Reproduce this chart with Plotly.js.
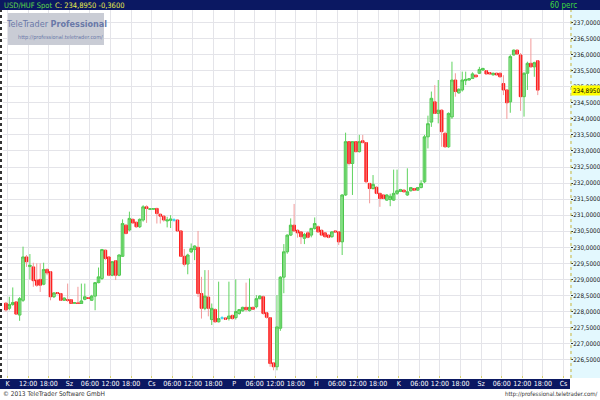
<!DOCTYPE html>
<html><head><meta charset="utf-8">
<script src="https://cdn.plot.ly/plotly-3.0.1.min.js"></script>
<style>html,body{margin:0;padding:0;background:#fff}#chart{width:600px;height:400px}</style>
</head><body><div id="chart"></div>
<script>
// hourly candles (start hour counted from Tuesday 00:00 of the first shown day)
const hour = [5,6,7,8,9,10,11,12,13,14,15,16,17,18,19,20,21,22,23,24,25,26,27,28,29,30,31,32,33,34,35,36,37,38,39,40,
41,42,43,44,45,46,47,48,49,50,51,52,53,54,55,56,57,58,59,60,61,62,63,64,65,66,67,68,69,70,71,72,73,74,75,76,77,78,79,80,
81,82,83,84,85,86,87,88,89,90,91,92,93,94,95,96,97,98,99,100,101,102,103,104,105,106,107,108,109,110,111,112,113,114,115,116,117,118,119,120,
121,122,123,124,125,126,127,128,129,130,131,132,133,134,135,136,137,138,139,140,141,142,143,144,145,146,147,148,149,150,151,152,153,154,155,156,157,158,159,160];
const open = [228.26,228.10,228.22,228.30,227.89,228.35,229.70,229.40,229.39,228.98,229.00,228.85,229.31,229.24,228.46,228.59,228.56,228.35,228.37,228.37,228.26,228.27,228.25,228.38,228.43,228.35,228.48,228.90,229.03,229.91,229.70,229.13,229.58,229.13,229.72,230.69,
230.54,230.87,230.78,230.64,230.85,231.26,231.18,231.19,231.21,231.03,230.97,230.82,230.84,230.85,230.85,230.51,229.72,229.48,229.86,229.93,230.00,228.56,228.10,228.45,227.75,228.06,227.68,227.80,227.80,227.78,227.88,227.81,227.94,228.02,228.13,228.03,228.13,228.15,228.40,228.46,
227.96,227.81,226.40,226.28,227.48,229.07,229.86,230.38,230.69,230.53,230.48,230.28,230.45,230.38,230.59,230.64,230.53,230.45,230.38,230.33,230.51,230.48,230.17,231.63,233.29,232.61,233.29,232.98,233.32,233.26,231.99,231.83,231.87,231.68,231.63,231.47,231.49,231.47,231.68,231.74,
231.78,231.63,231.76,231.83,231.78,231.86,232.04,233.44,233.90,234.53,234.17,234.27,233.55,233.13,234.06,235.21,234.81,234.90,235.19,235.21,235.26,235.36,235.42,235.52,235.50,235.44,235.37,235.42,235.42,235.10,234.90,234.53,235.99,236.14,235.99,234.69,235.42,235.73,235.62,235.81];
const high = [228.30,228.46,228.75,228.32,228.45,230.02,229.76,229.79,229.52,229.50,229.50,229.52,229.35,229.26,228.60,228.60,228.58,228.44,228.87,228.39,228.28,228.77,228.87,228.87,228.45,228.52,228.92,229.37,229.95,229.93,229.72,229.57,229.60,229.78,230.87,230.72,
231.11,230.90,230.80,230.90,231.31,231.31,231.22,231.22,231.23,231.05,231.00,230.95,231.00,230.90,230.87,230.52,229.95,229.80,230.12,230.06,230.51,229.08,229.29,229.29,228.25,228.10,228.93,227.85,227.82,228.93,227.90,229.00,228.08,228.15,228.90,229.03,228.15,228.51,228.51,228.50,
227.98,227.83,226.42,228.51,229.10,230.10,230.40,230.90,231.35,230.56,230.50,230.45,230.50,230.60,230.93,230.68,230.55,230.47,230.40,230.50,230.53,230.50,231.65,233.57,233.30,233.30,233.30,233.50,233.50,233.28,232.00,232.25,231.90,231.70,231.65,231.65,231.67,232.42,232.42,231.82,
231.80,232.46,231.88,231.85,231.88,232.09,233.50,234.10,234.85,235.05,235.21,234.30,233.60,234.20,235.78,235.42,234.95,235.47,235.47,235.27,235.45,235.38,235.62,235.59,235.52,235.46,235.44,235.44,235.44,235.36,234.92,236.00,236.16,236.16,236.05,235.45,235.78,236.50,235.78,235.83];
const low = [228.00,228.04,228.18,227.90,227.71,228.30,229.39,229.00,228.77,228.77,228.61,228.82,229.13,228.35,228.42,228.54,228.33,228.33,228.30,228.24,228.24,228.24,228.24,228.35,228.40,228.34,228.04,228.88,228.98,229.60,229.10,229.10,228.98,229.10,229.70,230.40,
230.50,230.74,230.60,230.60,230.80,230.76,231.16,231.17,230.74,230.74,230.80,230.62,230.60,230.80,230.50,229.70,229.40,229.16,229.82,229.60,228.45,227.78,228.04,227.85,227.58,227.65,227.66,227.75,227.74,227.72,227.75,227.75,227.90,228.00,228.00,228.00,228.05,228.10,228.38,227.90,
227.78,226.28,226.17,226.17,227.40,228.57,229.80,230.35,230.48,230.30,230.10,230.10,230.28,230.31,230.55,230.45,230.35,230.30,230.28,230.30,230.46,230.07,229.76,231.60,232.55,231.63,232.95,232.95,233.24,232.00,231.37,231.80,231.65,231.26,231.50,231.45,231.28,231.45,231.63,231.72,
231.70,231.60,231.74,231.76,231.76,231.84,232.00,233.08,233.75,234.15,233.86,233.13,233.10,233.10,234.00,234.69,234.78,234.85,235.05,235.19,235.24,235.29,235.40,235.50,235.38,235.38,235.35,235.35,235.29,234.74,234.00,234.19,235.97,236.00,234.25,234.07,234.90,235.60,235.31,234.74];
const close = [228.05,228.22,228.28,227.92,228.40,229.70,229.55,229.44,228.96,228.82,228.82,229.31,229.20,228.46,228.58,228.56,228.35,228.42,228.35,228.25,228.27,228.25,228.33,228.46,228.41,228.48,228.90,229.08,229.93,229.65,229.13,229.55,229.13,229.76,230.74,230.43,
230.90,230.76,230.64,230.87,231.26,231.21,231.20,231.20,231.05,230.97,230.85,230.85,230.88,230.85,230.51,229.72,229.47,229.76,229.96,230.04,228.56,228.10,228.48,228.10,228.10,227.68,227.78,227.80,227.76,227.86,227.78,228.00,228.06,228.13,228.06,228.13,228.07,228.40,228.48,227.94,
227.82,226.38,226.28,227.52,229.07,229.86,230.38,230.69,230.51,230.45,230.33,230.40,230.31,230.59,230.74,230.48,230.38,230.33,230.31,230.48,230.48,230.17,231.63,233.29,232.61,233.29,232.98,233.29,233.26,232.04,231.83,231.96,231.68,231.52,231.52,231.63,231.59,231.68,231.76,231.80,
231.73,231.73,231.86,231.78,231.86,231.99,233.44,233.85,234.64,234.17,234.27,233.60,233.13,234.17,235.21,234.85,234.92,235.21,235.23,235.25,235.40,235.31,235.54,235.57,235.40,235.40,235.42,235.37,235.31,234.90,234.50,235.94,236.14,236.02,234.69,235.42,235.73,235.62,235.75,234.895];

const timeTicks = [6,12,18,24,30,36,42,48,54,60,66,72,78,84,90,96,102,108,114,120,126,132,138,144,150,156,162,168];
const timeLabels = ['K','12:00','18:00','Sz','06:00','12:00','18:00','Cs','06:00','12:00','18:00','P','06:00','12:00','18:00','H','06:00','12:00','18:00','K','06:00','12:00','18:00','Sz','06:00','12:00','18:00','Cs'];
const priceTicks = [226.5,227,227.5,228,228.5,229,229.5,230,230.5,231,231.5,232,232.5,233,233.5,234,234.5,235,235.5,236,236.5,237];
const lastPrice = 234.895;
const symbolText = 'USD/HUF Spot';
const changeText = 'C: 234,8950 -0,3600';
const intervalText = '60 perc';
const brandText = 'TeleTrader <b>Professional</b>';
const brandUrl = 'http://professional.teletrader.com/';
const copyrightText = '\u00a9 2013 TeleTrader Software GmbH';
const footerUrl = 'http://professional.teletrader.com/';

const fmt = v => v.toFixed(4).replace('.', ',');
const NARROW = 'Liberation Sans Narrow, Arial Narrow, DejaVu Sans Condensed, sans-serif';

// split candles
const styles = {
  up:   {wick:'#5fd35f', line:'#47c447', fill:'#bff1bf'},
  down: {wick:'#f29a9a', line:'#ff1a1a', fill:'#ff0000'},
  flat: {wick:'#39d6f0', line:'#39d6f0', fill:'#39d6f0'}
};
const g = {};
Object.keys(styles).forEach(k => g[k] = {x:[], o:[], c:[], hi:[], lo:[], wx:[], wy:[]});
hour.forEach((h, i) => {
  const k = close[i] > open[i] ? 'up' : (close[i] < open[i] ? 'down' : 'flat');
  const x = h + 0.5;
  const d = g[k];
  d.x.push(x); d.o.push(open[i]); d.c.push(close[i]);
  d.hi.push(Math.max(open[i], close[i])); d.lo.push(Math.min(open[i], close[i]));
  d.wx.push(x, x, null); d.wy.push(low[i], high[i], null);
});
const traces = [];
Object.keys(styles).forEach(k => {
  traces.push({type:'scatter', mode:'lines', x:g[k].wx, y:g[k].wy, line:{color:styles[k].wick, width:1},
    hoverinfo:'skip', showlegend:false, connectgaps:false});
});
Object.keys(styles).forEach(k => {
  const st = {line:{color:styles[k].line, width:1}, fillcolor:styles[k].fill};
  traces.push({type:'candlestick', x:g[k].x, open:g[k].o, close:g[k].c, high:g[k].hi, low:g[k].lo,
    increasing:st, decreasing:st, whiskerwidth:0, hoverinfo:'skip', showlegend:false});
});

// geometry helpers (plot area: x 3..570, y 10..378 px)
const PW = 567, PH = 368;
const px = v => (v - 3) / PW;
const py = v => (378 - v) / PH;
const NAVY = '#0b1862';

const layout = {
  width:600, height:400,
  margin:{l:3, r:30, t:10, b:22, pad:0},
  paper_bgcolor:'#ffffff', plot_bgcolor:'#ffffff',
  showlegend:false, dragmode:false, boxgap:0.15, boxgroupgap:0.1,
  xaxis:{range:[4.66, 169.9], tickmode:'array', tickvals:timeTicks, ticktext:timeLabels,
    showgrid:true, gridcolor:'#e4e4e9', gridwidth:1, zeroline:false, showline:false,
    ticks:'inside', ticklen:2, tickcolor:'#d6cf6a', tickfont:{family:NARROW, size:7, color:'#ffffff'},
    rangeslider:{visible:false}, fixedrange:true},
  yaxis:{side:'right', range:[225.93, 237.39], tickmode:'array', tickvals:priceTicks, ticktext:priceTicks.map(fmt),
    showgrid:true, gridcolor:'#e4e4e9', gridwidth:1, zeroline:false, showline:false,
    ticks:'outside', ticklen:2, tickcolor:'#333333', ticklabelstandoff:-1,
    tickfont:{family:NARROW, size:6.3, color:'#111111'}, fixedrange:true},
  shapes:[
    {type:'rect', xref:'paper', yref:'paper', x0:1, x1:px(600), y0:0, y1:1, fillcolor:'#e3f8fe', line:{width:0}, layer:'below'},
    {type:'line', xref:'paper', yref:'paper', x0:px(571), x1:px(571), y0:0, y1:1, line:{color:'#c9b53c', width:1, dash:'dot'}},
    {type:'line', xref:'paper', yref:'paper', x0:px(1), x1:px(1), y0:0, y1:1, line:{color:'#333333', width:2, dash:'dot'}},
    {type:'rect', xref:'paper', yref:'paper', x0:px(0), x1:px(600), y0:py(10), y1:py(0), fillcolor:NAVY, line:{width:0}, layer:'below'},
    {type:'rect', xref:'paper', yref:'paper', x0:px(0), x1:px(570), y0:py(389), y1:py(379), fillcolor:NAVY, line:{width:0}, layer:'below'},
    {type:'rect', xref:'paper', yref:'paper', x0:px(8), x1:px(104), y0:py(45), y1:py(13), fillcolor:'#c9ccd5', line:{width:0}, layer:'above'}
  ],
  annotations:[
    {xref:'paper', yref:'paper', x:px(2), y:py(5), xanchor:'left', yanchor:'middle', showarrow:false, text:symbolText,
      font:{family:NARROW, size:7.5, color:'#5fd84a'}},
    {xref:'paper', yref:'paper', x:px(53), y:py(5), xanchor:'left', yanchor:'middle', showarrow:false, text:changeText,
      font:{family:NARROW, size:7.5, color:'#e8ee4a'}},
    {xref:'paper', yref:'paper', x:px(548), y:py(5), xanchor:'left', yanchor:'middle', showarrow:false, text:intervalText,
      font:{family:NARROW, size:8, color:'#3fd83f'}},
    {xref:'paper', yref:'paper', x:px(56), y:py(24), xanchor:'center', yanchor:'middle', showarrow:false, text:brandText,
      font:{family:NARROW, size:9, color:'#6a79a8'}},
    {xref:'paper', yref:'paper', x:px(60), y:py(37), xanchor:'center', yanchor:'middle', showarrow:false, text:brandUrl,
      font:{family:NARROW, size:5.5, color:'#6a79a8'}},
    {xref:'paper', yref:'paper', x:px(1), y:py(394), xanchor:'left', yanchor:'middle', showarrow:false, text:copyrightText,
      font:{family:NARROW, size:6.5, color:'#333333'}},
    {xref:'paper', yref:'paper', x:px(600), y:py(394), xanchor:'right', yanchor:'middle', showarrow:false, text:footerUrl,
      font:{family:NARROW, size:6, color:'#333333'}},
    {xref:'paper', yref:'y', x:1, y:lastPrice, xanchor:'left', yanchor:'middle', xshift:1, showarrow:false, text:fmt(lastPrice),
      bgcolor:'#ffff00', borderpad:1, font:{family:NARROW, size:6.3, color:'#000000'}}
  ]
};
Plotly.newPlot('chart', traces, layout, {staticPlot:true, displayModeBar:false});
</script>
</body></html>
